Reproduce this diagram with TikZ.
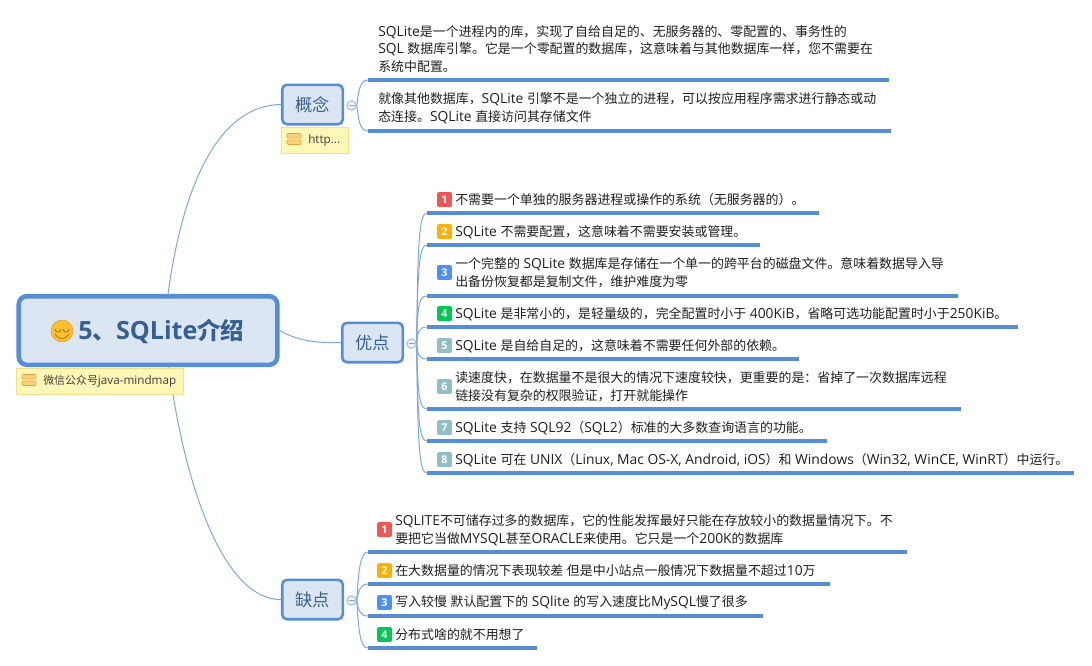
\documentclass[tikz,border=0pt]{standalone}
\usepackage{fontspec}
\setmainfont[Scale=1.07]{Open Sans}
\newfontfamily\cjkfam{Noto Sans CJK SC}
\usepackage{tikz}
\newXeTeXintercharclass\cjkclass
\count255="3000
\loop\ifnum\count255<"3040 \XeTeXcharclass\count255=\cjkclass \advance\count255 by 1 \repeat
\count255="4E00
\loop\ifnum\count255<"A000 \XeTeXcharclass\count255=\cjkclass \advance\count255 by 1 \repeat
\count255="FF00
\loop\ifnum\count255<"FF20 \XeTeXcharclass\count255=\cjkclass \advance\count255 by 1 \repeat
\XeTeXinterchartoks 0 \cjkclass={\begingroup\cjkfam}
\XeTeXinterchartoks 4095 \cjkclass={\begingroup\cjkfam}
\XeTeXinterchartoks \cjkclass 0={\endgroup}
\XeTeXinterchartoks \cjkclass 4095={\endgroup}
\XeTeXinterchartokenstate=1
\definecolor{boxblue}{HTML}{558ED5}
\definecolor{boxfill}{HTML}{DCE6F2}
\definecolor{titleblue}{HTML}{376092}
\definecolor{wireblue}{HTML}{7EA6E0}
\definecolor{foldblue}{HTML}{A3BFE8}
\definecolor{notefill}{HTML}{FFF7B5}
\definecolor{noteline}{HTML}{F5DF8A}
\definecolor{barfill}{HTML}{FFD27A}
\definecolor{barline}{HTML}{E8A33D}
\definecolor{smilefill}{HTML}{FBC02D}
\definecolor{smileline}{HTML}{B5700F}
\definecolor{badgered}{HTML}{F25555}
\definecolor{badgeorange}{HTML}{FFB000}
\definecolor{badgeblue}{HTML}{4F8EF7}
\definecolor{badgegreen}{HTML}{00C853}
\definecolor{badgegrey}{HTML}{93BFC4}
\tikzset{
  rootbox/.style={draw=boxblue, fill=boxfill, line width=3.4pt, rounded corners=6pt, minimum width=193.9pt, minimum height=51.4pt, inner sep=0pt},
  topicbox/.style={draw=boxblue, fill=boxfill, line width=1.9pt, rounded corners=3.5pt, minimum width=45.4pt, minimum height=29.6pt, inner sep=0pt, text=titleblue, font=\fontsize{13}{15}\selectfont},
  notebox/.style={draw=noteline, fill=notefill, line width=0.6pt, anchor=north west, minimum height=20pt, inner sep=0pt},
  notetext/.style={anchor=west, inner sep=0pt, text=black!75, font=\fontsize{8.2}{10}\selectfont},
  notebar/.style={draw=barline, fill=barfill, line width=0.5pt, rounded corners=0.8pt},
  wire/.style={draw=wireblue, line width=0.75pt},
  subline/.style={draw=boxblue, line width=2.3pt},
  foldmark/.style={circle, draw=foldblue, fill=boxfill!40, line width=0.8pt, minimum size=7pt, inner sep=0pt},
  subtext/.style={anchor=west, align=left, inner sep=0pt, text=black!88, font=\fontsize{9.7}{13.3}\selectfont},
  badge/.style={rounded corners=1.5pt, minimum size=11.2pt, inner sep=0pt, text=white, font=\fontsize{7.5}{9}\bfseries\selectfont},
}
\begin{document}
\begin{tikzpicture}[x=0.75pt, y=-0.75pt]
  \useasboundingbox (0,0) rectangle (1092,665);

  \node[rootbox, name=root] at (148,330.5) {};
  \node[topicbox, name=tconcept] at (312.5,104.5) {概念};
  \node[topicbox, name=tgood] at (372.5,342.5) {优点};
  \node[topicbox, name=tbad] at (312.5,599.5) {缺点};

  \draw[wire] ([shift={(20,0)}]root.north) .. controls (185,170) and (225,105) .. (tconcept.west);
  \draw[wire] (root.east) .. controls (300,342) and (320,343) .. (tgood.west);
  \draw[wire] ([shift={(21,0)}]root.south) .. controls (185,490) and (225,600) .. (tbad.west);

  % title
  \node[circle, name=smile, draw=barline, fill=smilefill, line width=0.5pt, minimum size=16.5pt, inner sep=0pt] at (62,331) {};
  \draw[smileline, line width=0.6pt] (55,329) arc (180:0:3);
  \draw[smileline, line width=0.6pt] (63,329) arc (180:0:3);
  \draw[smileline, line width=0.6pt] (55,334) .. controls (58,340) and (66,340) .. (69,334);
  \node[anchor=west, name=roottext, inner sep=0pt, text=titleblue, font=\fontsize{17.6}{20}\bfseries\selectfont] at (78,331) {5、SQLite介绍};

  % notes
  \node[notebox, name=rootnote, minimum width=125pt] at (16,367.5) {};
  \draw[notebar] (22,374.5) rectangle (36,379);
  \draw[notebar] (22,381) rectangle (36,385.5);
  \node[notetext, name=rootnotetext] at (43,381) {微信公众号java-mindmap};
  \node[notebox, name=conceptnote, minimum width=50pt] at (281,126.5) {};
  \draw[notebar] (287,133.5) rectangle (301,138);
  \draw[notebar] (287,140) rectangle (301,144.5);
  \node[notetext, name=conceptnotetext] at (308,140) {http...};

  \node[foldmark, name=cfold] at (351.5,105.5) {};
  \node[foldmark, name=gfold] at (411.5,343.5) {};
  \node[foldmark, name=bfold] at (351.5,600.5) {};
  \draw[wire] (348.5,105.5) -- (354.5,105.5);
  \draw[wire] (408.5,343.5) -- (414.5,343.5);
  \draw[wire] (348.5,600.5) -- (354.5,600.5);

  % concept
  \coordinate (c1s) at (368,80);  \coordinate (c1e) at (889,80);
  \coordinate (c2s) at (368,131); \coordinate (c2e) at (891,131);
  \draw[subline] (c1s) -- (c1e);
  \draw[subline] (c2s) -- (c2e);
  \draw[wire] (cfold.east) .. controls +(2,-15) and +(-8,0) .. (c1s);
  \draw[wire] (cfold.east) .. controls +(2,15) and +(-8,0) .. (c2s);
  \node[subtext, name=c1] at (378,49) {SQLite是一个进程内的库，实现了自给自足的、无服务器的、零配置的、事务性的\\SQL 数据库引擎。它是一个零配置的数据库，这意味着与其他数据库一样，您不需要在\\系统中配置。};
  \node[subtext, name=c2] at (378,108) {就像其他数据库，SQLite 引擎不是一个独立的进程，可以按应用程序需求进行静态或动\\态连接。SQLite 直接访问其存储文件};

  % good
  \coordinate (g1s) at (427,213); \coordinate (g1e) at (819,213);
  \coordinate (g2s) at (427,245); \coordinate (g2e) at (760,245);
  \coordinate (g3s) at (427,296); \coordinate (g3e) at (958,296);
  \coordinate (g4s) at (427,327); \coordinate (g4e) at (1018,327);
  \coordinate (g5s) at (427,359); \coordinate (g5e) at (799,359);
  \coordinate (g6s) at (427,409); \coordinate (g6e) at (961,409);
  \coordinate (g7s) at (427,441); \coordinate (g7e) at (827,441);
  \coordinate (g8s) at (427,473); \coordinate (g8e) at (1074,473);
  \draw[subline] (g1s) -- (g1e);
  \draw[subline] (g2s) -- (g2e);
  \draw[subline] (g3s) -- (g3e);
  \draw[subline] (g4s) -- (g4e);
  \draw[subline] (g5s) -- (g5e);
  \draw[subline] (g6s) -- (g6e);
  \draw[subline] (g7s) -- (g7e);
  \draw[subline] (g8s) -- (g8e);
  \draw[wire] (gfold.east) .. controls +(1,-100) and +(-8,0) .. (g1s);
  \draw[wire] (gfold.east) .. controls +(1,-75) and +(-8,0) .. (g2s);
  \draw[wire] (gfold.east) .. controls +(1,-40) and +(-8,0) .. (g3s);
  \draw[wire] (gfold.east) .. controls +(1,-12) and +(-8,0) .. (g4s);
  \draw[wire] (gfold.east) .. controls +(1,12) and +(-8,0) .. (g5s);
  \draw[wire] (gfold.east) .. controls +(1,50) and +(-8,0) .. (g6s);
  \draw[wire] (gfold.east) .. controls +(1,75) and +(-8,0) .. (g7s);
  \draw[wire] (gfold.east) .. controls +(1,100) and +(-8,0) .. (g8s);
  \node[badge, name=g1b, fill=badgered] at (444.5,199.5) {1};
  \node[badge, name=g2b, fill=badgeorange] at (444.5,231.5) {2};
  \node[badge, name=g3b, fill=badgeblue] at (444.5,272.5) {3};
  \node[badge, name=g4b, fill=badgegreen] at (444.5,313.5) {4};
  \node[badge, name=g5b, fill=badgegrey] at (444.5,345.5) {5};
  \node[badge, name=g6b, fill=badgegrey] at (444.5,386.5) {6};
  \node[badge, name=g7b, fill=badgegrey] at (444.5,427.5) {7};
  \node[badge, name=g8b, fill=badgegrey] at (444.5,459.5) {8};
  \node[subtext, name=g1] at (455,200) {不需要一个单独的服务器进程或操作的系统（无服务器的）。};
  \node[subtext, name=g2] at (455,232) {SQLite 不需要配置，这意味着不需要安装或管理。};
  \node[subtext, name=g3] at (455,273) {一个完整的 SQLite 数据库是存储在一个单一的跨平台的磁盘文件。意味着数据导入导\\出备份恢复都是复制文件，维护难度为零};
  \node[subtext, name=g4] at (455,314) {SQLite 是非常小的，是轻量级的，完全配置时小于 400KiB，省略可选功能配置时小于250KiB。};
  \node[subtext, name=g5] at (455,346) {SQLite 是自给自足的，这意味着不需要任何外部的依赖。};
  \node[subtext, name=g6] at (455,387) {读速度快，在数据量不是很大的情况下速度较快，更重要的是：省掉了一次数据库远程\\链接没有复杂的权限验证，打开就能操作};
  \node[subtext, name=g7] at (455,428) {SQLite 支持 SQL92（SQL2）标准的大多数查询语言的功能。};
  \node[subtext, name=g8] at (455,460) {SQLite 可在 UNIX（Linux, Mac OS-X, Android, iOS）和 Windows（Win32, WinCE, WinRT）中运行。};

  % bad
  \coordinate (b1s) at (368,552); \coordinate (b1e) at (907,552);
  \coordinate (b2s) at (368,584); \coordinate (b2e) at (830,584);
  \coordinate (b3s) at (368,616); \coordinate (b3e) at (763,616);
  \coordinate (b4s) at (368,648); \coordinate (b4e) at (537,648);
  \draw[subline] (b1s) -- (b1e);
  \draw[subline] (b2s) -- (b2e);
  \draw[subline] (b3s) -- (b3e);
  \draw[subline] (b4s) -- (b4e);
  \draw[wire] (bfold.east) .. controls +(2,-30) and +(-8,0) .. (b1s);
  \draw[wire] (bfold.east) .. controls +(2,-10) and +(-8,0) .. (b2s);
  \draw[wire] (bfold.east) .. controls +(2,10) and +(-8,0) .. (b3s);
  \draw[wire] (bfold.east) .. controls +(2,30) and +(-8,0) .. (b4s);
  \node[badge, name=b1b, fill=badgered] at (384.5,529.5) {1};
  \node[badge, name=b2b, fill=badgeorange] at (384.5,570.5) {2};
  \node[badge, name=b3b, fill=badgeblue] at (384.5,602.5) {3};
  \node[badge, name=b4b, fill=badgegreen] at (384.5,634.5) {4};
  \node[subtext, name=b1] at (395,530) {SQLITE不可储存过多的数据库，它的性能发挥最好只能在存放较小的数据量情况下。不\\要把它当做MYSQL甚至ORACLE来使用。它只是一个200K的数据库};
  \node[subtext, name=b2] at (395,571) {在大数据量的情况下表现较差 但是中小站点一般情况下数据量不超过10万};
  \node[subtext, name=b3] at (395,603) {写入较慢 默认配置下的 SQlite 的写入速度比MySQL慢了很多};
  \node[subtext, name=b4] at (395,635) {分布式啥的就不用想了};
\end{tikzpicture}
\end{document}
